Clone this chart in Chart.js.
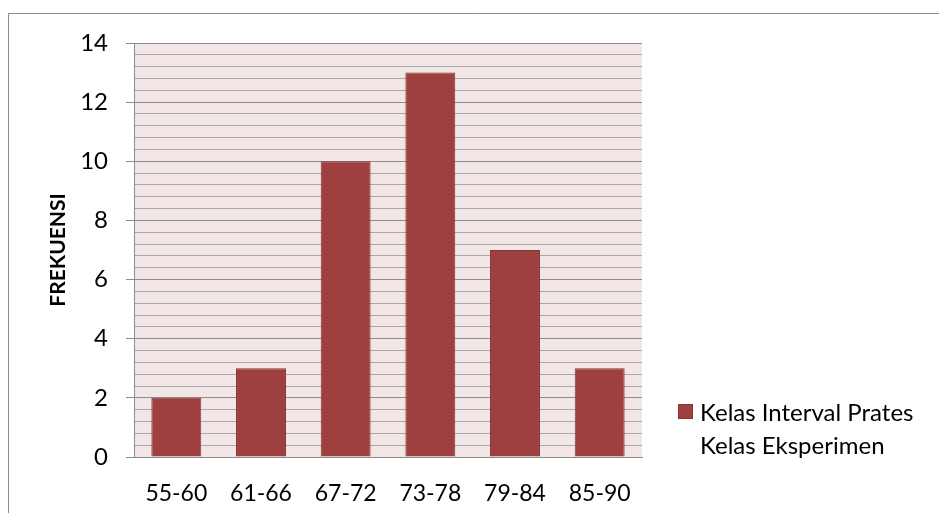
<!DOCTYPE html>
<html>
<head>
<meta charset="utf-8">
<script src="https://cdn.jsdelivr.net/npm/chart.js@4.4.0/dist/chart.umd.min.js"></script>
<style>
  html, body { margin: 0; padding: 0; background: #ffffff; }
  #wrap { width: 939px; height: 513px; position: relative; }
</style>
</head>
<body>
<div id="wrap"><canvas id="c" width="939" height="513"></canvas></div>
<script>
// Frequency distribution of pre-test scores, experiment class
const categories = ['55-60', '61-66', '67-72', '73-78', '79-84', '85-90'];
const frequencies = [2, 3, 10, 13, 7, 3];
const legendLines = ['Kelas Interval Prates', 'Kelas Eksperimen'];
const axisTitle = 'FREKUENSI';

const FONT = 'Lato, "Open Sans", sans-serif';
const BAR_FILL = '#9E4040';
const BAR_EDGE = '#8A3434';

const isMajor = v => Math.abs(v / 2 - Math.round(v / 2)) < 1e-6;

// Plot background, outer frame and two-line legend
const decor = {
  id: 'decor',
  beforeDraw(chart) {
    const { ctx, chartArea: a } = chart;
    ctx.save();
    ctx.fillStyle = '#F2E6E6';
    ctx.fillRect(a.left, a.top, a.right - a.left, a.bottom - a.top);
    ctx.strokeStyle = '#8C8C8C';
    ctx.lineWidth = 1;
    ctx.beginPath();
    ctx.moveTo(8.5, 513);
    ctx.lineTo(8.5, 13.5);
    ctx.lineTo(939, 13.5);
    ctx.stroke();
    ctx.restore();
  },
  afterDraw(chart) {
    const { ctx, chartArea: a } = chart;
    const x0 = a.right + 36;
    const y0 = 404;
    ctx.save();
    ctx.fillStyle = BAR_FILL;
    ctx.strokeStyle = BAR_EDGE;
    ctx.lineWidth = 1;
    ctx.fillRect(x0, y0, 15, 15);
    ctx.strokeRect(x0 + 0.5, y0 + 0.5, 14, 14);
    ctx.fillStyle = '#000000';
    ctx.font = '24px ' + FONT;
    ctx.textBaseline = 'middle';
    ctx.textAlign = 'left';
    legendLines.forEach((t, i) => ctx.fillText(t, x0 + 22, y0 + 9 + i * 33));
    ctx.restore();
  }
};

new Chart(document.getElementById('c'), {
  type: 'bar',
  data: {
    labels: categories,
    datasets: [{
      label: legendLines.join(' '),
      data: frequencies,
      backgroundColor: BAR_FILL,
      borderColor: BAR_EDGE,
      borderWidth: 1,
      categoryPercentage: 1,
      barPercentage: 0.59
    }]
  },
  options: {
    responsive: false,
    animation: false,
    layout: { padding: { left: 0, top: 43, right: 297, bottom: 0 } },
    plugins: {
      legend: { display: false },
      tooltip: { enabled: false }
    },
    scales: {
      x: {
        grid: { display: false },
        border: { display: true, color: '#8C8C8C', width: 1 },
        ticks: { color: '#000', font: { family: FONT, size: 23 }, padding: 15, maxRotation: 0 },
        afterFit(s) { s.height = 56; }
      },
      y: {
        min: 0,
        max: 14,
        ticks: {
          stepSize: 0.4,
          autoSkip: false,
          color: '#000',
          font: { family: FONT, size: 24 },
          padding: 18,
          callback: v => (isMajor(v) ? String(Math.round(v)) : '')
        },
        grid: {
          color: ctx => (isMajor(ctx.tick.value) ? '#8C8C8C' : '#A8A8A8'),
          tickColor: ctx => (isMajor(ctx.tick.value) ? '#8C8C8C' : 'rgba(0,0,0,0)'),
          tickLength: 8,
          lineWidth: 1
        },
        border: { display: true, color: '#8C8C8C', width: 1 },
        title: {
          display: true,
          text: axisTitle,
          color: '#000',
          font: { family: FONT, size: 21, weight: 'bold' },
          padding: { top: 46, bottom: 0 }
        },
        afterFit(s) { s.width = 134; }
      }
    }
  },
  plugins: [decor]
});
</script>
</body>
</html>
